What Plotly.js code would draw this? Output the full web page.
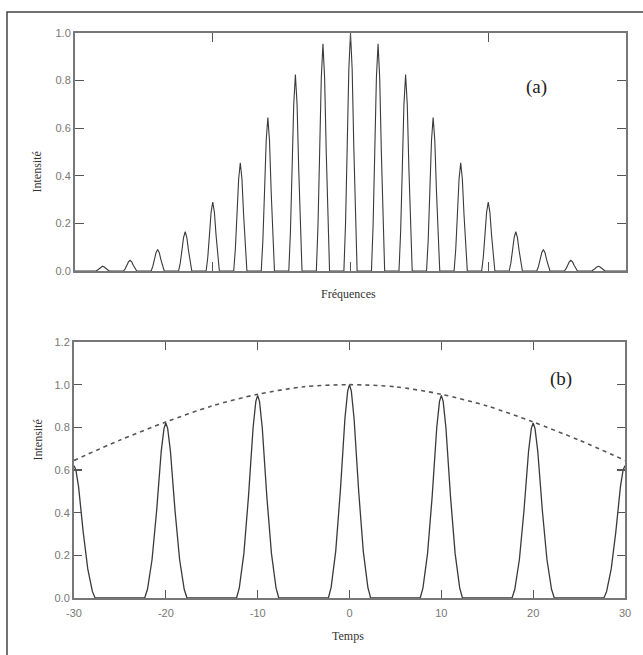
<!DOCTYPE html>
<html>
<head>
<meta charset="utf-8">
<script src="https://cdn.plot.ly/plotly-3.0.1.min.js"></script>
<style>html,body{margin:0;padding:0;background:#fff;}#chart{width:643px;height:655px;}</style>
</head>
<body>
<div id="chart"></div>
<script>
// ---- Data ----
// (a) frequency comb: mode index and peak intensity
const freqModes = [-9,-8,-7,-6,-5,-4,-3,-2,-1,0,1,2,3,4,5,6,7,8,9];
const freqPeaks = [0.02,0.045,0.09,0.165,0.29,0.455,0.645,0.825,0.955,1.0,0.955,0.825,0.645,0.455,0.29,0.165,0.09,0.045,0.02];
// shape of one spectral line (offset in mode units, relative height)
const lineOffsets = [-0.24,-0.18,-0.12,-0.06,0,0.06,0.12,0.18,0.24];
const lineShape   = [0,0.2,0.52,0.85,1,0.85,0.52,0.2,0];

// (b) pulse train: pulse times and peak intensity
const pulseTimes = [-30,-20,-10,0,10,20,30];
const pulsePeaks = [0.62,0.82,0.95,1.0,0.95,0.82,0.62];
// shape of one pulse (offset in time units, relative height)
const pulseOffsets = [-2.3,-2,-1.5,-1,-0.5,-0.2,0,0.2,0.5,1,1.5,2,2.3];
const pulseShape   = [0,0.05,0.22,0.5,0.84,0.97,1,0.97,0.84,0.5,0.22,0.05,0];
// envelope (dashed)
const envTimes  = [-30,-25,-20,-15,-10,-5,0,5,10,15,20,25,30];
const envValues = [0.645,0.74,0.825,0.9,0.955,0.99,1.0,0.99,0.955,0.9,0.825,0.74,0.645];

// tick labels
const yTicksA = [0,0.2,0.4,0.6,0.8,1.0];
const yTicksB = [0,0.2,0.4,0.6,0.8,1.0,1.2];
const xTicksB = [-30,-20,-10,0,10,20,30];
const xTickTextB = ['-30','-20','-10','0','10','20','30'];
const xTicksA = [-5,0,5];

// ---- build traces from the data ----
function comb(centers, heights, offs, shape, lo, hi) {
  const x = [lo], y = [0];
  centers.forEach((c, i) => {
    offs.forEach((o, j) => { x.push(c + o); y.push(heights[i] * shape[j]); });
  });
  x.push(hi); y.push(0);
  return {x, y};
}
const a = comb(freqModes, freqPeaks, lineOffsets, lineShape, -10, 10);
const b = comb(pulseTimes, pulsePeaks, pulseOffsets, pulseShape, -33, 33);

const traces = [
  {x: a.x, y: a.y, xaxis: 'x', yaxis: 'y', mode: 'lines', line: {color: '#3a3a3a', width: 1.1}, hoverinfo: 'skip'},
  {x: b.x, y: b.y, xaxis: 'x2', yaxis: 'y2', mode: 'lines', line: {color: '#3a3a3a', width: 1.3}, hoverinfo: 'skip'},
  {x: envTimes, y: envValues, xaxis: 'x2', yaxis: 'y2', mode: 'lines', line: {color: '#555', width: 1.6, dash: '4px,4px', shape: 'spline', smoothing: 0.8}, hoverinfo: 'skip'}
];

const tickFont = {family: 'Liberation Sans, Arial, sans-serif', size: 11, color: '#777'};
const titleFont = {family: 'Liberation Serif, Times New Roman, serif', size: 12, color: '#333'};
const axBase = {showgrid: false, zeroline: false, showline: true, linecolor: '#777', linewidth: 2,
  mirror: 'ticks', ticks: 'inside', ticklen: 9, tickcolor: '#555', tickwidth: 1.2, tickfont: tickFont};

const W = 643, H = 655;
const layout = {
  width: W, height: H,
  margin: {l: 0, r: 0, t: 0, b: 0},
  paper_bgcolor: '#fff', plot_bgcolor: '#fff',
  showlegend: false,
  xaxis: Object.assign({}, axBase, {domain: [75/W, 626/W], range: [-10, 10], anchor: 'y',
    tickvals: xTicksA, showticklabels: false}),
  yaxis: Object.assign({}, axBase, {domain: [1-271/H, 1-33/H], range: [0, 1.0], anchor: 'x',
    tickvals: yTicksA, tickformat: '.1f'}),
  xaxis2: Object.assign({}, axBase, {domain: [74/W, 625/W], range: [-30, 30], anchor: 'y2',
    tickvals: xTicksB, ticktext: xTickTextB, ticklen: 8, ticklabelstandoff: 4}),
  yaxis2: Object.assign({}, axBase, {domain: [1-598/H, 1-342/H], range: [0, 1.2], anchor: 'x2',
    tickvals: yTicksB, tickformat: '.1f', ticklen: 8}),
  shapes: [
    {type: 'rect', xref: 'paper', yref: 'paper', x0: 7/W, x1: 1.05, y0: -0.05, y1: 1-12/H,
     line: {color: '#444', width: 1.5}, fillcolor: 'rgba(0,0,0,0)'}
  ],
  annotations: [
    {text: '(a)', xref: 'paper', yref: 'paper', x: 549/W, y: 1-74/H, showarrow: false,
     font: {family: 'Liberation Serif, Times New Roman, serif', size: 19, color: '#222'}},
    {text: '(b)', xref: 'paper', yref: 'paper', x: 574/W, y: 1-379/H, showarrow: false,
     font: {family: 'Liberation Serif, Times New Roman, serif', size: 19, color: '#222'}},
    {text: 'Fréquences', xref: 'paper', yref: 'paper', x: 348/W, y: 1-294/H, showarrow: false, font: titleFont},
    {text: 'Temps', xref: 'paper', yref: 'paper', x: 348/W, y: 1-636/H, yanchor: 'middle', borderpad: 0, showarrow: false, font: titleFont},
    {text: 'Intensité', xref: 'paper', yref: 'paper', x: 28/W, y: 1-150/H, showarrow: false, textangle: -90, font: titleFont},
    {text: 'Intensité', xref: 'paper', yref: 'paper', x: 28/W, y: 1-463/H, showarrow: false, textangle: -90, font: titleFont}
  ]
};

Plotly.newPlot('chart', traces, layout, {staticPlot: true, displayModeBar: false});
</script>
</body>
</html>
